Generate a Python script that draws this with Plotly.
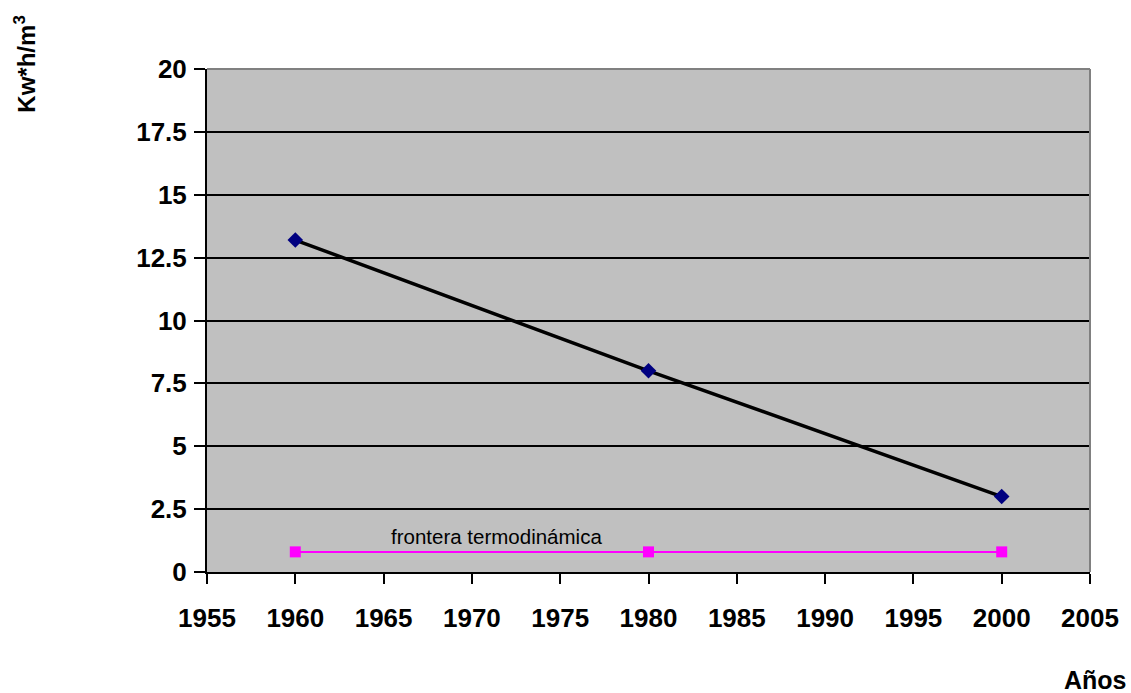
import plotly.graph_objects as go

# Datos
anios = [1960, 1980, 2000]
consumo = [13.2, 8.0, 3.0]
frontera = [0.8, 0.8, 0.8]

x_ticks = [1955, 1960, 1965, 1970, 1975, 1980, 1985, 1990, 1995, 2000, 2005]
y_ticks = [0, 2.5, 5, 7.5, 10, 12.5, 15, 17.5, 20]
y_labels = ["0", "2.5", "5", "7.5", "10", "12.5", "15", "17.5", "20"]

FONT = "Liberation Sans, Arial, sans-serif"

fig = go.Figure()

fig.add_trace(go.Scatter(
    x=anios, y=frontera, mode="lines+markers",
    line=dict(color="#FF00FF", width=2),
    marker=dict(symbol="square", size=11, color="#FF00FF"),
    showlegend=False,
))

fig.add_trace(go.Scatter(
    x=anios, y=consumo, mode="lines+markers",
    line=dict(color="black", width=3.5),
    marker=dict(symbol="diamond", size=12, color="#000080"),
    showlegend=False,
))

# Bordes superior y derecho del área de trazado
fig.add_shape(type="line", xref="paper", yref="paper", x0=0, x1=1, y0=1, y1=1,
              line=dict(color="#808080", width=2))
fig.add_shape(type="line", xref="paper", yref="paper", x0=1, x1=1, y0=0, y1=1,
              line=dict(color="#808080", width=2))

fig.update_layout(
    width=1131, height=693,
    margin=dict(l=207, r=38, t=69, b=121),
    plot_bgcolor="#C0C0C0",
    paper_bgcolor="white",
    font=dict(family=FONT, color="black"),
    xaxis=dict(
        range=[1955, 2005], tickvals=x_ticks,
        ticks="outside", ticklen=10, tickwidth=2, tickcolor="black",
        showline=True, linecolor="black", linewidth=2,
        showgrid=False, zeroline=False,
        tickfont=dict(family=FONT, size=26, color="black", weight="bold"),
        ticklabelstandoff=12,
    ),
    yaxis=dict(
        range=[0, 20], tickvals=y_ticks, ticktext=y_labels,
        ticks="outside", ticklen=11, tickwidth=2, tickcolor="black",
        showline=True, linecolor="black", linewidth=2,
        showgrid=True, gridcolor="black", gridwidth=2,
        zeroline=False,
        tickfont=dict(family=FONT, size=26, color="black", weight="bold"),
        ticklabelstandoff=2,
    ),
)

# Etiqueta de la serie frontera
fig.add_annotation(
    x=1971.4, y=frontera[1], xref="x", yref="y",
    text="frontera termodinámica", showarrow=False,
    yanchor="bottom", yshift=2,
    font=dict(family=FONT, size=20.5, color="black"),
)

# Títulos de los ejes
fig.add_annotation(
    xref="paper", yref="paper", x=-0.2065, y=1.01,
    text="<b>Kw*h/m<sup>3</sup></b>", textangle=-90, showarrow=False,
    xanchor="center", yanchor="middle",
    font=dict(family=FONT, size=24, color="black"),
)
fig.add_annotation(
    xref="paper", yref="paper", x=1.006, y=-0.215,
    text="<b>Años</b>", showarrow=False,
    xanchor="center", yanchor="middle",
    font=dict(family=FONT, size=25, color="black"),
)

fig.write_html("out.html")
